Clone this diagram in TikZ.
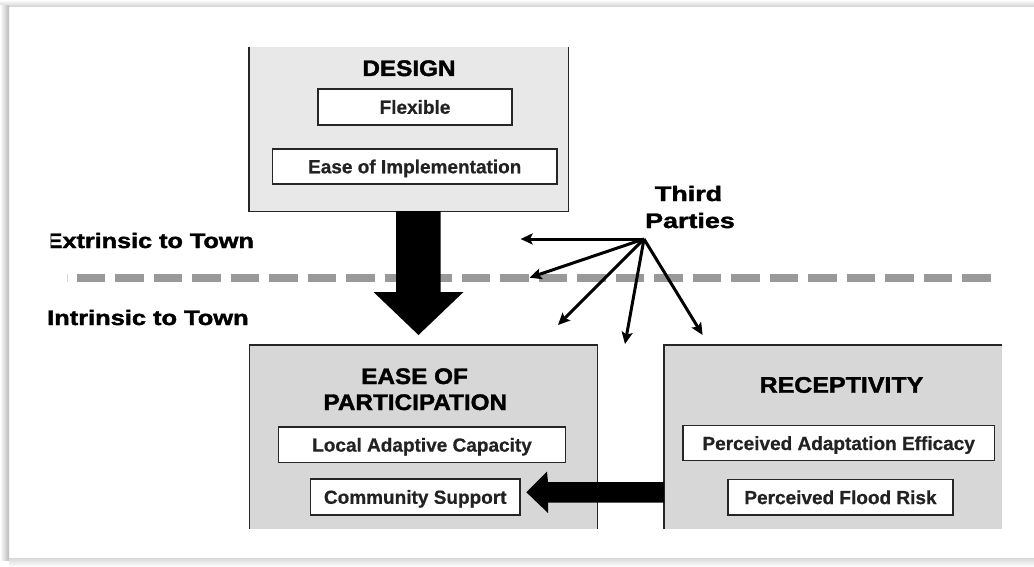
\documentclass[tikz,border=0pt]{standalone}
\usepackage{fontspec}
\usepackage{graphicx}
\setmainfont{Liberation Sans}
\newfontfamily\heavyfont{Liberation Sans Bold}[FakeBold=1.6]
\newfontfamily\semiheavyfont{Liberation Sans Bold}[FakeBold=0.6]
\usetikzlibrary{arrows.meta}
\definecolor{designfill}{HTML}{E8E8E8}
\definecolor{boxfill}{HTML}{D7D7D7}
\definecolor{dashgray}{HTML}{999999}
\definecolor{itemtext}{HTML}{222222}
\begin{document}
\begin{tikzpicture}[x=1pt,y=-1pt,
  item/.style={draw=black!85, line width=1.5pt, fill=white, inner sep=0pt, text=itemtext,
    font=\fontsize{19}{22}\selectfont\semiheavyfont, text height=13.6pt, text depth=0pt},
  ttl/.style={font=\fontsize{22.5}{26}\selectfont\heavyfont, inner sep=0pt, anchor=base},
  side/.style={font=\fontsize{21}{25}\selectfont\heavyfont, inner sep=0pt, anchor=base west},
  tplabel/.style={font=\fontsize{21}{25}\selectfont\heavyfont, inner sep=0pt, anchor=base},
  thinarrow/.style={line width=3pt, -{Stealth[length=12pt,width=11pt,inset=2.5pt]}},
  boxframe/.style={draw=black!85, line width=1.4pt},
  area/.style={draw=none, inner sep=0pt}
]
\useasboundingbox (0,0) rectangle (1034,567);
% page frame with shadow
\fill[white] (0,0) rectangle (1034,567);
\shade[top color=white, bottom color=gray!35] (0,0) rectangle (1034,6.5);
\shade[left color=white, right color=gray!55] (0,6) rectangle (9,560);
\shade[top color=gray!30, bottom color=white] (9,558) rectangle (1034,567);

% DESIGN box (open at the top)
\node[area, fill=designfill, minimum width=319pt, minimum height=164pt] (design) at (408.5,129) {};
\draw[boxframe] (design.north west) -- (design.south west) -- (design.south east) -- (design.north east);
\node[ttl] (designT) at (409,76) {\scalebox{1.08}[1]{DESIGN}};
\node[item, minimum width=194pt, minimum height=36pt] (flex) at (415,107) {Flexible};
\node[item, minimum width=284.5pt, minimum height=35pt] (impl) at (414.75,166.5) {Ease of Implementation};

% EASE OF PARTICIPATION box (open at the bottom)
\node[area, fill=boxfill, minimum width=347.5pt, minimum height=184pt] (ease) at (423.25,437) {};
\draw[boxframe] (ease.south west) -- (ease.north west) -- (ease.north east) -- (ease.south east);
\node[ttl] (easeT1) at (414.6,384) {\scalebox{1.08}[1]{EASE OF}};
\node[ttl] (easeT2) at (415.3,410) {\scalebox{1.08}[1]{PARTICIPATION}};
\node[item, minimum width=286.7pt, minimum height=35.7pt] (lac) at (422,444.8) {Local Adaptive Capacity};
\node[item, minimum width=209.5pt, minimum height=36pt] (cs) at (415.25,497) {Community Support};

% RECEPTIVITY box (open at the bottom and right)
\node[area, fill=boxfill, minimum width=338pt, minimum height=184pt] (recep) at (833,437) {};
\draw[boxframe] (recep.south west) -- (recep.north west) -- (recep.north east);
\node[ttl] (recepT) at (841.5,392.7) {\scalebox{1.11}[1]{RECEPTIVITY}};
\node[item, minimum width=311.8pt, minimum height=35pt] (pae) at (838.7,443.2) {Perceived Adaptation Efficacy};
\node[item, minimum width=225pt, minimum height=35.3pt] (pfr) at (840.5,497.3) {Perceived Flood Risk};

% dashed boundary
\draw[gray!30, line width=0.8pt] (67,274) -- (67,282);
\draw[dashgray, line width=8pt, dash pattern=on 28.5pt off 10pt] (76.5,277.7) -- (991,277.7);

% big down arrow DESIGN -> EASE
\fill[black] (396,211) -- (440.5,211) -- (440.5,292) -- (463.5,292) -- (418.5,335)
  -- (373.5,292) -- (396,292) -- cycle;

% big left arrow RECEPTIVITY -> Community Support
\fill[black] (664,482) -- (548,482) -- (547,471.7) -- (526.4,492.3) -- (548,513)
  -- (548,502.7) -- (664,502.7) -- cycle;

% side labels
\begin{scope}
  \clip (50.5,220) rectangle (300,260);
  \node[side] (ext) at (45.5,248) {\scalebox{1.2}[1]{Extrinsic to Town}};
\end{scope}
\node[side] (int) at (47,325) {\scalebox{1.21}[1]{Intrinsic to Town}};

% Third parties
\node[tplabel] (third) at (688.5,201) {\scalebox{1.28}[1]{Third}};
\node[tplabel] (parties) at (690,228) {\scalebox{1.28}[1]{Parties}};
\coordinate (src) at (644,239);
\coordinate (e1) at (520.6,239);
\coordinate (e2) at (529.5,277.7);
\coordinate (e3) at (558,325);
\coordinate (e4) at (625,344);
\coordinate (e5) at (702.6,335);
\foreach \e in {e1,e2,e3,e4,e5} \draw[thinarrow] (src) -- (\e);
\end{tikzpicture}
\end{document}
